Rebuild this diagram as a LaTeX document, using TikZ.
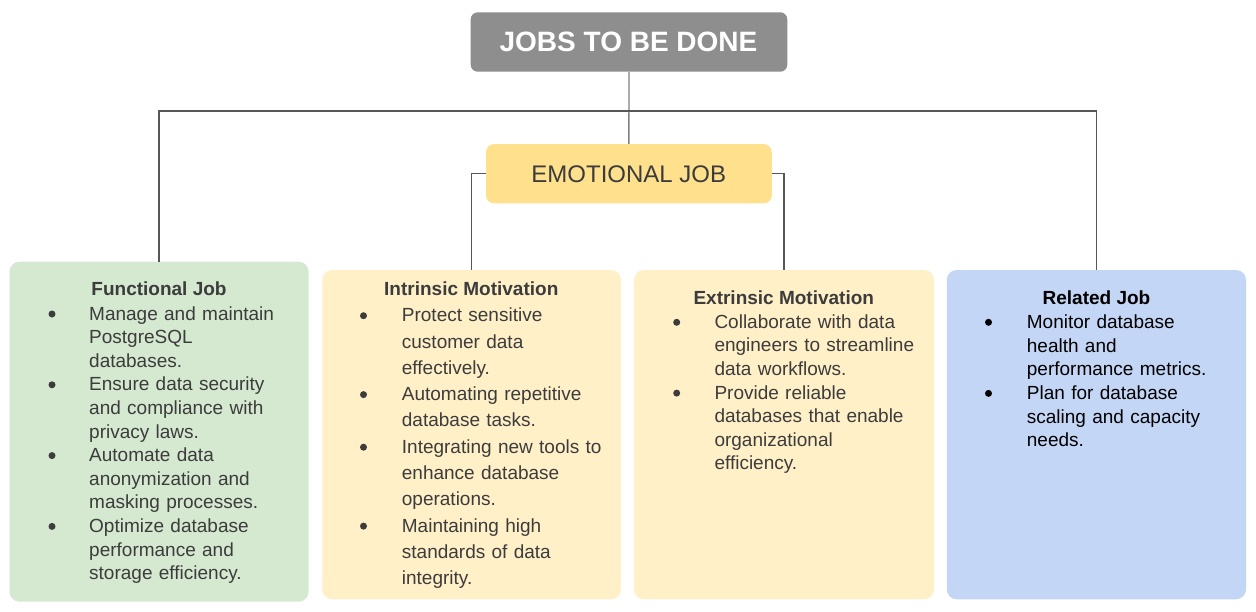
\documentclass[tikz,border=0pt]{standalone}
\usepackage{fontspec}
\setmainfont{Liberation Sans}
\definecolor{titlegray}{HTML}{8E8E8E}
\definecolor{emoyellow}{HTML}{FFE08C}
\definecolor{funcgreen}{HTML}{D5E8D0}
\definecolor{motyellow}{HTML}{FFF0C8}
\definecolor{relblue}{HTML}{C4D6F5}
\definecolor{txt}{HTML}{3C3C3C}
\definecolor{linedark}{HTML}{575757}
\definecolor{linelight}{HTML}{808080}
\begin{document}
\begin{tikzpicture}[x=1pt,y=-1pt,
  box/.style={draw=none, rounded corners=10pt, inner sep=0pt},
  ttl/.style={font=\fontsize{19}{23.6}\selectfont\bfseries, inner sep=0pt, anchor=base},
  body/.style={text width=220pt, align=left, inner sep=0pt, anchor=base west},
  conn/.style={draw=linedark, line width=1.2pt},
  connl/.style={draw=linelight, line width=1.4pt}]
\useasboundingbox (0,0) rectangle (1256,611);

% main boxes
\node[box, fill=titlegray, rounded corners=7pt, minimum width=316.6pt, minimum height=59.4pt] (tjob) at (629,42) {};
\node[font=\fontsize{28}{32}\selectfont\bfseries, text=white, inner sep=0pt, anchor=base] (tjobt) at (628.5,51.7) {JOBS TO BE DONE};

\node[box, fill=emoyellow, rounded corners=8pt, minimum width=285.7pt, minimum height=59.3pt] (emo) at (628.9,173.7) {};
\node[font=\fontsize{24}{28}\selectfont, text=txt, inner sep=0pt, anchor=base] (emot) at (628.8,182.7) {EMOTIONAL JOB};

\node[box, fill=funcgreen, minimum width=299pt, minimum height=340pt] (func) at (159,431.7) {};
\node[box, fill=motyellow, minimum width=298.7pt, minimum height=329.3pt] (intr) at (471.6,434.65) {};
\node[box, fill=motyellow, minimum width=300pt, minimum height=329.3pt] (extr) at (784,434.65) {};
\node[box, fill=relblue, minimum width=299.3pt, minimum height=329.3pt] (rel) at (1096.4,434.65) {};

% connectors
\coordinate (hub) at (629,111);
\draw[connl] (tjob.south) -- (emo.north);
\draw[conn] (func.north) |- (hub) -| (rel.north);
\draw[conn] (emo.west) -| (intr.north);
\draw[conn] (emo.east) -| (extr.north);

% Functional Job
\node[ttl, text=txt] (funct) at (159,295.7) {Functional Job};
\node[body, text=txt, font=\fontsize{19}{23.6}\selectfont] (funcb) at (89,320) {Manage and maintain\\PostgreSQL\\databases.\\Ensure data security\\and compliance with\\privacy laws.\\Automate data\\anonymization and\\masking processes.\\Optimize database\\performance and\\storage efficiency.};
\foreach \i in {0,3,6,9} \fill[txt] ({52},{320+\i*23.6-6}) circle (3.5pt);

% Intrinsic Motivation
\node[ttl, text=txt] (intrt) at (471.3,295) {Intrinsic Motivation};
\node[body, text=txt, font=\fontsize{19}{26.3}\selectfont] (intrb) at (401.7,321.7) {Protect sensitive\\customer data\\effectively.\\Automating repetitive\\database tasks.\\Integrating new tools to\\enhance database\\operations.\\Maintaining high\\standards of data\\integrity.};
\foreach \i in {0,3,5,8} \fill[txt] ({363.5},{321.7+\i*26.3-6}) circle (3.5pt);

% Extrinsic Motivation
\node[ttl, text=txt] (extrt) at (783.8,304) {Extrinsic Motivation};
\node[body, text=txt, font=\fontsize{19}{23.6}\selectfont] (extrb) at (714.3,328.3) {Collaborate with data\\engineers to streamline\\data workflows.\\Provide reliable\\databases that enable\\organizational\\efficiency.};
\foreach \i in {0,3} \fill[txt] ({676.7},{328.3+\i*23.6-6}) circle (3.5pt);

% Related Job
\node[ttl, text=black] (relt) at (1096.5,304) {Related Job};
\node[body, text=black, font=\fontsize{19}{23.7}\selectfont] (relb) at (1026.7,328.3) {Monitor database\\health and\\performance metrics.\\Plan for database\\scaling and capacity\\needs.};
\foreach \i in {0,3} \fill[black] ({988.5},{328.3+\i*23.7-6}) circle (3.5pt);
\end{tikzpicture}
\end{document}
